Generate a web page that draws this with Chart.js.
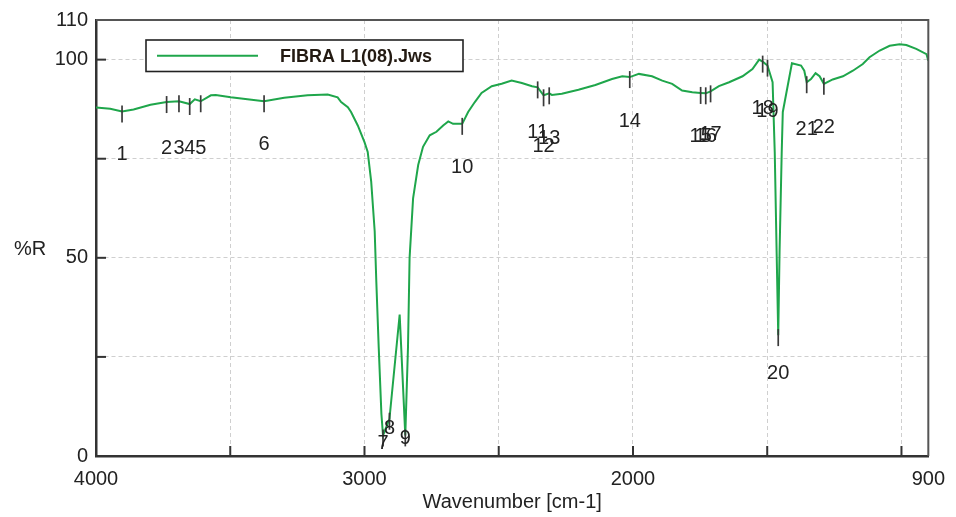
<!DOCTYPE html>
<html><head><meta charset="utf-8">
<script src="https://cdn.jsdelivr.net/npm/chart.js@4.4.1/dist/chart.umd.min.js"></script>
<style>html,body{margin:0;padding:0;background:#fff;}</style>
</head><body>
<canvas id="c" width="956" height="517"></canvas>
<script>
// ---- data ----
const seriesName = 'FIBRA L1(08).Jws';
const wavenumbers = [4000,3947,3903,3860,3797,3737,3691,3651,3632,3610,3572,3554,3498,3436,3374,3299,3212,3137,3100,3087,3062,3050,3025,3000,2988,2975,2962,2956,2947,2937,2931,2907,2869,2848,2838,2832,2819,2800,2782,2757,2732,2707,2688,2670,2636,2614,2589,2564,2526,2489,2452,2414,2376,2355,2333,2312,2302,2265,2203,2140,2078,2040,2012,1978,1929,1891,1854,1817,1779,1748,1729,1711,1680,1642,1592,1555,1530,1517,1499,1480,1472,1465,1459,1454,1446,1442,1408,1374,1362,1353,1337,1320,1305,1289,1256,1218,1181,1144,1119,1081,1044,1007,982,945,907,900];
const reflectance = [87.9,87.6,86.9,87.4,88.6,89.3,89.5,88.8,90.0,89.5,91.0,91.1,90.5,90.0,89.5,90.4,91.0,91.2,90.5,89.3,88.0,86.8,83.4,79.2,76.7,69.2,56.7,44.1,27.4,10.6,5.2,9.4,35.7,5.2,27.4,50.0,65.0,73.4,78.0,80.9,81.8,83.4,84.4,83.8,83.8,86.8,89.3,91.6,93.3,93.9,94.7,94.1,93.3,93.0,91.0,91.5,91.1,91.4,92.4,93.6,95.1,95.8,95.6,96.4,95.8,94.7,93.9,92.2,91.8,91.6,91.5,92.0,93.3,94.3,95.8,97.6,100.0,99.5,98.5,94.3,76.7,51.6,30.5,51.6,76.7,86.8,99.1,98.5,97.2,94.3,95.1,96.6,95.8,93.9,95.0,95.8,97.2,98.9,100.6,102.3,103.5,103.9,103.7,102.7,101.4,99.7];
const peakWavenumbers = [3903,3737,3691,3651,3610,3374,2931,2907,2848,2636,2355,2333,2312,2012,1748,1729,1711,1517,1499,1459,1353,1289];
const peakLabels = ['1','2','3','4','5','6','7','8','9','10','11','12','13','14','15','16','17','18','19','20','21','22'];
const peakLabelR = [76.0,77.7,77.7,77.7,77.7,78.5,3.2,6.9,4.4,72.9,81.5,78.0,80.1,84.3,80.5,80.5,81.0,87.8,86.8,20.7,82.4,82.8];
const xTickValues = [4000,3500,3000,2500,2000,1500,1000,900];
const xLabeledTicks = [4000,3000,2000,900];
const yTickValues = [0,25,50,75,100,110];
const yLabeledTicks = [0,50,100,110];

const GREEN = '#1fa64b';
const FONT = '"Liberation Sans", Arial, sans-serif';

function curveAt(wn){
  for (let i=0;i<wavenumbers.length-1;i++){
    const a=wavenumbers[i], b=wavenumbers[i+1];
    if (wn<=a && wn>=b){
      const t=(a-wn)/(a-b);
      return reflectance[i]+(reflectance[i+1]-reflectance[i])*t;
    }
  }
  return reflectance[reflectance.length-1];
}

const decor = {
  id:'decor',
  afterDatasetsDraw(chart){
    const {ctx, chartArea:ca, scales:{x,y}} = chart;
    ctx.save();
    // peak markers and labels
    ctx.strokeStyle='#3a3a3a'; ctx.lineWidth=1.7;
    ctx.fillStyle='#222'; ctx.font='20px '+FONT;
    ctx.textAlign='center'; ctx.textBaseline='middle';
    peakWavenumbers.forEach((wn,i)=>{
      const px=x.getPixelForValue(wn), py=y.getPixelForValue(curveAt(wn));
      ctx.beginPath(); ctx.moveTo(px,py-6); ctx.lineTo(px,py+11); ctx.stroke();
      ctx.fillText(peakLabels[i], px, y.getPixelForValue(peakLabelR[i]));
    });
    // inward tick marks
    ctx.strokeStyle='#333'; ctx.lineWidth=2;
    xTickValues.forEach(v=>{
      if (v===4000||v===900) return;
      const px=x.getPixelForValue(v);
      ctx.beginPath(); ctx.moveTo(px,ca.bottom); ctx.lineTo(px,ca.bottom-10); ctx.stroke();
    });
    yTickValues.forEach(v=>{
      if (v===0||v===110) return;
      const py=y.getPixelForValue(v);
      ctx.beginPath(); ctx.moveTo(ca.left,py); ctx.lineTo(ca.left+10,py); ctx.stroke();
    });
    // top/right frame
    ctx.strokeStyle='#555'; ctx.lineWidth=2;
    ctx.beginPath(); ctx.moveTo(ca.left,ca.top); ctx.lineTo(ca.right,ca.top); ctx.lineTo(ca.right,ca.bottom); ctx.stroke();
    // y title (horizontal)
    ctx.fillStyle='#222'; ctx.font='20px '+FONT; ctx.textAlign='center';
    ctx.fillText('%R', ca.left-66, (ca.top+ca.bottom)/2+11);
    // legend box
    const lx=ca.left+50, ly=ca.top+20, lw=317, lh=31.5;
    ctx.fillStyle='#fff'; ctx.fillRect(lx,ly,lw,lh);
    ctx.strokeStyle='#222'; ctx.lineWidth=1.6; ctx.strokeRect(lx,ly,lw,lh);
    ctx.strokeStyle=GREEN; ctx.lineWidth=2;
    ctx.beginPath(); ctx.moveTo(lx+11,ly+lh/2); ctx.lineTo(lx+112,ly+lh/2); ctx.stroke();
    ctx.fillStyle='#231a12'; ctx.font='bold 18px '+FONT; ctx.textAlign='left';
    ctx.fillText(seriesName, lx+134, ly+lh/2+1);
    ctx.restore();
  }
};

new Chart(document.getElementById('c'), {
  type:'line',
  data:{ datasets:[{
    label: seriesName,
    data: wavenumbers.map((w,i)=>({x:w,y:reflectance[i]})),
    borderColor: GREEN, borderWidth:2, pointRadius:0, tension:0, fill:false
  }]},
  options:{
    responsive:false, animation:false, devicePixelRatio:1,
    layout:{padding:{left:0,right:27,top:17,bottom:0}},
    plugins:{legend:{display:false}, tooltip:{enabled:false}},
    scales:{
      x:{
        type:'linear', reverse:true, min:900, max:4000,
        afterBuildTicks(s){ s.ticks = xTickValues.map(v=>({value:v})); },
        afterFit(s){ s.height = 61; },
        ticks:{ autoSkip:false, maxRotation:0, padding:11, color:'#222',
          font:{family:FONT,size:20},
          callback:(v)=> xLabeledTicks.includes(v) ? String(v) : '' },
        grid:{ drawTicks:false, lineWidth:1,
          color:(c)=> (c.tick && (c.tick.value===4000||c.tick.value===900)) ? 'rgba(0,0,0,0)' : '#cfcfcf' },
        border:{ display:true, color:'#333', width:2.5, dash:[4,3] },
        title:{ display:true, text:'Wavenumber [cm-1]', color:'#222',
          font:{family:FONT,size:20}, padding:{top:0,bottom:3} }
      },
      y:{
        min:0, max:110,
        afterBuildTicks(s){ s.ticks = yTickValues.map(v=>({value:v})); },
        afterFit(s){ s.width = 96; },
        ticks:{ autoSkip:false, padding:8, color:'#222',
          font:{family:FONT,size:20},
          callback:(v)=> yLabeledTicks.includes(v) ? String(v) : '' },
        grid:{ drawTicks:false, lineWidth:1,
          color:(c)=> (c.tick && (c.tick.value===0||c.tick.value===110)) ? 'rgba(0,0,0,0)' : '#cfcfcf' },
        border:{ display:true, color:'#333', width:2.5, dash:[4,3] }
      }
    }
  },
  plugins:[decor]
});
</script>
</body></html>
